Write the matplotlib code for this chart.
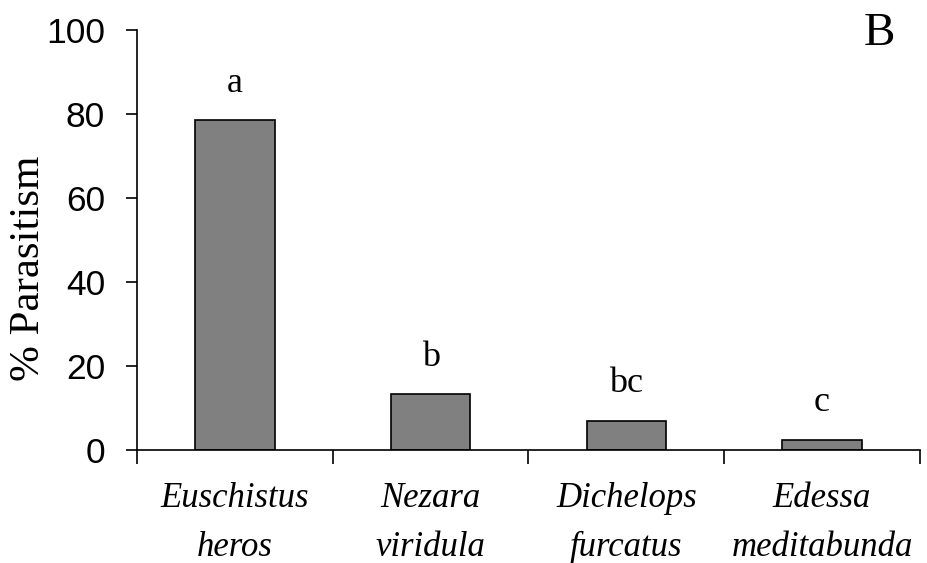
import matplotlib
matplotlib.use("Agg")
import matplotlib.pyplot as plt
import numpy as np

species = ["Euschistus\nheros", "Nezara\nviridula", "Dichelops\nfurcatus", "Edessa\nmeditabunda"]
parasitism = [78.6, 13.3, 7.0, 2.5]
letters = ["a", "b", "bc", "c"]
panel = "B"

serif = "Liberation Serif"
sans = "Liberation Sans"

fig = plt.figure(figsize=(9.27, 5.63), dpi=100)
ax = fig.add_axes([0.1478, 0.2007, 0.8446, 0.746])

x = np.arange(len(species)) + 0.5
ax.bar(x, parasitism, width=0.405, color="#808080", edgecolor="black", linewidth=1.2)

for xi, v, l in zip(x, parasitism, letters):
    ax.text(xi, v + 6.7, l, ha="center", va="baseline", family=serif, fontsize=26)

ax.text(3.795, 96.4, panel, ha="center", va="baseline", family=serif, fontsize=34)

ax.set_xlim(0, len(species))
ax.set_ylim(0, 100)
ax.set_yticks(np.arange(0, 101, 20))
for t in ax.get_yticklabels():
    t.set_family(sans)
ax.tick_params(axis="y", labelsize=25.5, length=8, width=1.2, direction="out", pad=15)

# ticks between categories, labels under bars
ax.set_xticks(np.arange(0, len(species) + 1))
ax.set_xticklabels([])
ax.tick_params(axis="x", which="major", length=10, width=1.2, direction="out")
ax.set_xticks(x, minor=True)
ax.set_xticklabels(species, minor=True, family=serif, style="italic", fontsize=25, linespacing=1.65)
ax.tick_params(axis="x", which="minor", length=0, pad=23)

ax.set_ylabel("% Parasitism", family=serif, fontsize=31)
ax.yaxis.set_label_coords(-0.114, 0.433)

for s in ["top", "right"]:
    ax.spines[s].set_visible(False)
for s in ["left", "bottom"]:
    ax.spines[s].set_linewidth(1.2)

fig.savefig("out.png", dpi=100)
